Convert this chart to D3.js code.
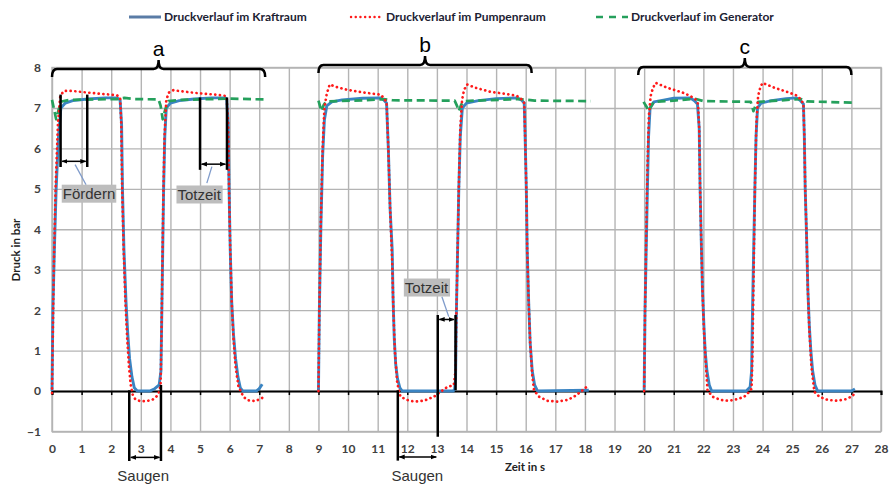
<!DOCTYPE html>
<html><head><meta charset="utf-8">
<script src="https://cdn.jsdelivr.net/npm/d3@7"></script>
<style>body{margin:0;background:#fff}svg{display:block}</style>
</head><body>
<svg id="chart" width="890" height="484"></svg>
<script>
// ---------- data ----------
const seriesNames = ["Druckverlauf im Kraftraum", "Druckverlauf im Pumpenraum", "Druckverlauf im Generator"];
const xTicks = [0,1,2,3,4,5,6,7,8,9,10,11,12,13,14,15,16,17,18,19,20,21,22,23,24,25,26,27,28];
const yTicks = [-1,0,1,2,3,4,5,6,7,8];
const xTitle = "Zeit in s";
const yTitle = "Druck in bar";

const kraftraum = [
  [0,0],[0.03,2],[0.08,3.5],[0.14,5],[0.22,6.3],[0.3,7.0],[0.45,7.12],[0.7,7.18],[1.2,7.22],[1.8,7.25],[2.2,7.25],[2.3,7.2],
  [2.35,6.6],[2.38,5],[2.43,3.5],[2.5,2.2],[2.56,1.4],[2.62,0.8],[2.7,0.35],[2.78,0.08],[2.88,0],[3.3,0],[3.45,0.05],[3.62,0.15],
  [3.68,0.5],[3.71,2],[3.74,3.5],[3.77,5],[3.81,6.3],[3.86,7.0],[4.0,7.12],[4.3,7.18],[4.8,7.22],[5.4,7.25],[5.85,7.25],[5.9,7.22],
  [5.95,6.6],[5.98,5],[6.02,3.5],[6.07,2.2],[6.13,1.4],[6.2,0.8],[6.28,0.35],[6.36,0.08],[6.45,0],[6.9,0],[7.0,0.06],[7.1,0.17],
  null,
  [9.0,0],[9.03,2],[9.08,4],[9.14,5.8],[9.2,6.7],[9.28,7.05],[9.45,7.15],[9.8,7.2],[10.5,7.24],[11.1,7.25],[11.2,7.2],[11.3,7.12],
  [11.36,6],[11.42,4.5],[11.49,3.5],[11.52,2.3],[11.56,1.3],[11.61,0.65],[11.67,0.3],[11.75,0.08],[11.83,0],[13.55,0],[13.6,0.05],
  [13.63,0.3],[13.66,2],[13.7,3.5],[13.74,5],[13.79,6.3],[13.86,7.0],[14.0,7.12],[14.4,7.18],[15.0,7.23],[15.7,7.25],[15.85,7.2],
  [15.95,7.12],[15.98,6.3],[16.02,5],[16.05,3.5],[16.1,2.2],[16.15,1.2],[16.22,0.5],[16.3,0.15],[16.4,0],[18.13,0.02],
  null,
  [20.0,0],[20.03,2],[20.07,3.5],[20.11,5],[20.15,6.3],[20.2,7.0],[20.33,7.15],[20.7,7.2],[21.0,7.24],[21.55,7.25],[21.7,7.18],
  [21.8,7.1],[21.86,6.5],[21.89,5],[21.92,4],[21.97,2.5],[22.02,1.6],[22.06,1.0],[22.12,0.5],[22.2,0.15],[22.28,0],[23.45,0],
  [23.58,0.1],[23.63,0.5],[23.66,2],[23.7,3.5],[23.74,5],[23.78,6.3],[23.83,7.0],[23.95,7.12],[24.3,7.18],[24.8,7.23],[25.15,7.25],
  [25.28,7.18],[25.38,7.1],[25.41,6.3],[25.44,5],[25.48,4],[25.53,2.5],[25.58,1.6],[25.63,1.0],[25.69,0.5],[25.77,0.15],[25.86,0],
  [27.0,0],[27.12,0.05]
];

const pumpenraum = [
  [0,-0.05],[0.02,1],[0.06,3],[0.12,5],[0.2,6.6],[0.28,7.3],[0.4,7.42],[0.7,7.42],[1.2,7.38],[1.8,7.34],[2.2,7.31],[2.3,7.25],
  [2.34,6.6],[2.37,5],[2.42,3.5],[2.48,2.2],[2.54,1.3],[2.6,0.6],[2.66,0.15],[2.72,-0.08],[2.81,-0.2],[2.98,-0.25],[3.2,-0.25],
  [3.4,-0.21],[3.55,-0.12],[3.63,0],[3.67,0.2],[3.7,1.5],[3.73,3.2],[3.76,4.8],[3.8,6.3],[3.86,7.2],[3.95,7.38],[4.1,7.44],
  [4.5,7.4],[5.0,7.36],[5.5,7.33],[5.85,7.3],[5.9,7.25],[5.95,6.6],[5.98,5],[6.02,3.5],[6.07,2.2],[6.13,1.3],[6.2,0.6],[6.3,0.1],
  [6.36,0.02],[6.47,-0.15],[6.64,-0.23],[6.87,-0.25],[7.1,-0.17],
  null,
  [9.0,0],[9.03,2],[9.08,4.2],[9.14,6],[9.2,7.0],[9.28,7.35],[9.38,7.58],[9.6,7.52],[9.96,7.45],[10.53,7.38],[11.1,7.33],[11.2,7.25],
  [11.3,7.14],[11.36,6],[11.42,4.5],[11.49,3.2],[11.53,2.0],[11.58,1.0],[11.66,0.2],[11.77,-0.14],[12.0,-0.22],[12.22,-0.26],
  [12.56,-0.24],[12.9,-0.14],[13.12,-0.02],[13.35,0.1],[13.57,0.15],[13.63,0.5],[13.66,2],[13.7,3.5],[13.74,5],[13.79,6.5],
  [13.85,7.2],[13.92,7.45],[14.02,7.58],[14.3,7.5],[14.8,7.4],[15.3,7.35],[15.7,7.3],[15.85,7.22],[15.95,7.12],[15.98,6.3],
  [16.02,5],[16.05,3.5],[16.1,2.2],[16.15,1.2],[16.22,0.4],[16.28,0.02],[16.45,-0.14],[16.73,-0.24],[17.07,-0.26],[17.41,-0.22],
  [17.63,-0.14],[17.86,-0.02],[18.08,0.12],
  null,
  [20.0,0],[20.03,2],[20.07,3.8],[20.11,5.5],[20.16,6.8],[20.22,7.3],[20.3,7.5],[20.39,7.62],[20.78,7.5],[21.34,7.37],[21.57,7.29],
  [21.74,7.21],[21.82,7.1],[21.86,6.5],[21.89,5],[21.92,4],[21.97,2.5],[22.02,1.5],[22.08,0.7],[22.14,0.02],[22.31,-0.14],
  [22.59,-0.22],[22.87,-0.24],[23.15,-0.2],[23.38,-0.14],[23.55,-0.02],[23.63,0.06],[23.66,1],[23.7,3],[23.74,5],[23.79,6.6],
  [23.85,7.3],[23.93,7.52],[24.0,7.62],[24.4,7.5],[24.9,7.38],[25.18,7.3],[25.3,7.2],[25.38,7.1],[25.41,6.3],[25.44,5],[25.48,4],
  [25.53,2.5],[25.58,1.5],[25.65,0.6],[25.75,-0.02],[25.92,-0.14],[26.2,-0.22],[26.54,-0.24],[26.82,-0.2],[27.05,-0.12],[27.1,-0.05]
];

const generator = [
  [0,7.2],[0.06,7.0],[0.14,6.72],[0.22,6.95],[0.32,7.16],[0.6,7.2],[2.2,7.22],[2.45,7.25],[2.8,7.22],[3.6,7.21],[3.67,7.05],
  [3.74,6.72],[3.82,6.95],[3.93,7.17],[4.3,7.2],[6.0,7.23],[7.2,7.21],
  null,
  [9.0,7.18],[9.05,7.05],[9.1,6.92],[9.18,7.08],[9.26,7.16],[10.5,7.19],[11.2,7.22],[11.5,7.19],[13.6,7.18],[13.68,7.05],
  [13.74,6.92],[13.82,7.08],[13.92,7.17],[15.8,7.22],[16.3,7.18],[18.2,7.17],
  null,
  [19.98,7.15],[20.08,7.03],[20.16,6.92],[20.24,7.05],[20.33,7.15],[21.0,7.18],[21.7,7.23],[22.0,7.17],[23.6,7.15],[23.65,7.03],
  [23.69,6.92],[23.76,7.05],[23.85,7.15],[25.29,7.22],[25.5,7.16],[27.15,7.13]
];

// braces over the measurement groups (time range, level)
const braceLabels = ["a", "b", "c"];
const braceStart = [0, 9, 19.8];
const braceEnd = [7.2, 16.2, 27.0];
const braceLevel = [7.96, 8.06, 8.01];

// annotation geometry in data units
const markerLines = [
  [0.29, 5.54, 7.33], [1.19, 5.54, 7.33],
  [5.0, 5.47, 7.26], [5.91, 5.47, 7.26],
  [2.61, -1.73, 0.02], [3.68, -1.73, 0.15],
  [13.03, -1.13, 1.88], [13.63, 0.02, 1.88],
  [11.68, -1.72, 0.02]
];
const spanArrows = [
  [0.29, 1.19, 5.68], [5.0, 5.91, 5.61], [2.61, 3.68, -1.64], [13.03, 13.63, 1.77], [11.68, 13.03, -1.63]
];
const leaders = [
  [0.78, 5.6, 1.15, 5.1], [5.4, 5.55, 5.23, 5.14], [13.4, 1.84, 13.17, 2.33]
];
const boxLabels = [["Fördern", 1.25, 4.88], ["Totzeit", 4.97, 4.86], ["Totzeit", 12.65, 2.56]];
const plainLabels = [["Saugen", 3.08, -2.1], ["Saugen", 12.34, -2.1]];

// ---------- drawing ----------
const svg = d3.select("#chart");
const L = 52, R = 881, T = 67.5, B = 431.5;
const x = d3.scaleLinear().domain([0, 28]).range([L, R]);
const y = d3.scaleLinear().domain([-1, 8]).range([B, T]);

const tickFont = "Lato, 'Liberation Sans', sans-serif";

// grid
const grid = svg.append("g");
grid.append("g").attr("transform", `translate(0,${B})`)
  .call(d3.axisBottom(x).tickValues(xTicks).tickSize(-(B - T)).tickFormat(""))
  .call(g => g.select(".domain").remove())
  .call(g => g.selectAll("line").attr("stroke", "#b4b4b4").attr("stroke-width", 1.4));
grid.append("g").attr("transform", `translate(${L},0)`)
  .call(d3.axisLeft(y).tickValues(yTicks).tickSize(-(R - L)).tickFormat(""))
  .call(g => g.select(".domain").remove())
  .call(g => g.selectAll("line").attr("stroke", "#b4b4b4").attr("stroke-width", 1.4));
grid.append("rect").attr("x", L).attr("y", T).attr("width", R - L).attr("height", B - T)
  .attr("fill", "none").attr("stroke", "#b4b4b4").attr("stroke-width", 1.4);

// tick labels
svg.append("g").attr("transform", `translate(0,${B})`)
  .call(d3.axisBottom(x).tickValues(xTicks).tickSize(0).tickPadding(13).tickFormat(d3.format("d")))
  .call(g => g.select(".domain").remove())
  .call(g => g.selectAll("text").attr("font-family", tickFont).attr("font-weight", "bold")
    .attr("font-size", 12).attr("fill", "#404040"));
svg.append("g").attr("transform", `translate(${L},0)`)
  .call(d3.axisLeft(y).tickValues(yTicks).tickSize(0).tickPadding(11).tickFormat(d3.format("d")))
  .call(g => g.select(".domain").remove())
  .call(g => g.selectAll("text").attr("font-family", tickFont).attr("font-weight", "bold")
    .attr("font-size", 12).attr("fill", "#404040"));

// zero axis
svg.append("g").attr("transform", `translate(0,${y(0)})`)
  .call(d3.axisBottom(x).tickValues(xTicks).tickSize(4).tickSizeOuter(4).tickFormat(""))
  .call(g => g.select(".domain").attr("stroke", "#000").attr("stroke-width", 2))
  .call(g => g.selectAll("line").attr("stroke", "#000").attr("stroke-width", 1.5));

// axis titles
svg.append("text").attr("x", 525).attr("y", 471).attr("text-anchor", "middle")
  .attr("font-family", tickFont).attr("font-weight", "bold").attr("font-size", 11.5).attr("fill", "#222").text(xTitle);
svg.append("text").attr("transform", `translate(20,250) rotate(-90)`).attr("text-anchor", "middle")
  .attr("font-family", tickFont).attr("font-weight", "bold").attr("font-size", 11.5).attr("fill", "#222").text(yTitle);

// series
const line = d3.line().defined(d => d !== null).x(d => x(d[0])).y(d => y(d[1]));
const styles = [
  {stroke: "#3a84c2", width: 2.9, dash: null, cap: "butt"},
  {stroke: "#ff1a1a", width: 2.7, dash: "0.1,4.6", cap: "round"},
  {stroke: "#25a05c", width: 2.7, dash: "8,4.5", cap: "butt"}
];
const allSeries = [kraftraum, pumpenraum, generator];
[0, 2, 1].forEach(i => {
  svg.append("path").attr("d", line(allSeries[i])).attr("fill", "none")
    .attr("stroke", styles[i].stroke).attr("stroke-width", styles[i].width)
    .attr("stroke-dasharray", styles[i].dash).attr("stroke-linecap", styles[i].cap)
    .attr("stroke-linejoin", "round");
});

// braces
braceLabels.forEach((lab, i) => {
  const xa = x(braceStart[i]), xb = x(braceEnd[i]), xc = (xa + xb) / 2, yy = y(braceLevel[i]);
  const p = `M${xa},${yy + 8} Q${xa},${yy} ${xa + 5},${yy} L${xc - 5},${yy} Q${xc},${yy} ${xc},${yy - 9} ` +
            `Q${xc},${yy} ${xc + 5},${yy} L${xb - 5},${yy} Q${xb},${yy} ${xb},${yy + 8}`;
  svg.append("path").attr("d", p).attr("fill", "none").attr("stroke", "#000").attr("stroke-width", 2.5);
  svg.append("text").attr("x", xc).attr("y", yy - 13).attr("text-anchor", "middle")
    .attr("font-family", "'Liberation Sans', Arial, sans-serif").attr("font-size", 21).attr("fill", "#000").text(lab);
});

// legend
const legendX = [129, 351, 596];
const legendY = 17;
seriesNames.forEach((name, i) => {
  const g = svg.append("g").attr("transform", `translate(${legendX[i]},${legendY})`);
  g.append("line").attr("x1", 0).attr("x2", 32).attr("y1", 0).attr("y2", 0)
    .attr("stroke", i === 0 ? "#5a7ca6" : styles[i].stroke).attr("stroke-width", i === 0 ? 3 : 2.4)
    .attr("stroke-dasharray", i === 2 ? "7,6" : styles[i].dash).attr("stroke-linecap", styles[i].cap);
  g.append("text").attr("x", 35).attr("y", 4).attr("font-family", tickFont).attr("font-weight", "bold")
    .attr("font-size", 12).attr("fill", "#1c2233").text(name);
});

// annotations
const defs = svg.append("defs");
defs.append("marker").attr("id", "ah").attr("viewBox", "0 0 10 10").attr("refX", 9).attr("refY", 5)
  .attr("markerWidth", 6).attr("markerHeight", 6).attr("markerUnits", "userSpaceOnUse").attr("orient", "auto-start-reverse")
  .append("path").attr("d", "M0,1 L10,5 L0,9 Z").attr("fill", "#000");

const ann = svg.append("g");
markerLines.forEach(m => {
  ann.append("line").attr("x1", x(m[0])).attr("x2", x(m[0])).attr("y1", y(m[1])).attr("y2", y(m[2]))
    .attr("stroke", "#000").attr("stroke-width", 2.5);
});
spanArrows.forEach(a => {
  ann.append("line").attr("x1", x(a[0]) + 1.5).attr("x2", x(a[1]) - 1.5).attr("y1", y(a[2])).attr("y2", y(a[2]))
    .attr("stroke", "#000").attr("stroke-width", 1.5)
    .attr("marker-start", "url(#ah)").attr("marker-end", "url(#ah)");
});
leaders.forEach(l => {
  ann.append("line").attr("x1", x(l[0])).attr("y1", y(l[1])).attr("x2", x(l[2])).attr("y2", y(l[3]))
    .attr("stroke", "#7f9bcb").attr("stroke-width", 1.3);
});
const labFont = "'Liberation Sans', Arial, sans-serif";
boxLabels.forEach(b => {
  const g = ann.append("g");
  const t = g.append("text").attr("x", x(b[1])).attr("y", y(b[2]) + 5.5).attr("text-anchor", "middle")
    .attr("font-family", labFont).attr("font-size", 15).attr("fill", "#333").text(b[0]);
  const bb = t.node().getBBox();
  g.insert("rect", "text").attr("x", bb.x - 1).attr("y", y(b[2]) - 9).attr("width", bb.width + 2).attr("height", 18)
    .attr("fill", "#bdbdbd");
});
plainLabels.forEach(p => {
  ann.append("text").attr("x", x(p[1])).attr("y", y(p[2]) + 5.5).attr("text-anchor", "middle")
    .attr("font-family", labFont).attr("font-size", 15).attr("fill", "#333").text(p[0]);
});
</script>
</body></html>
